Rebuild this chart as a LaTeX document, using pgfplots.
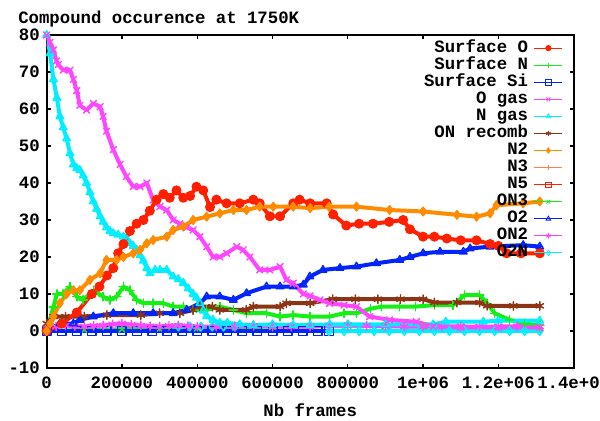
\documentclass[border=0pt]{standalone}
\usepackage{pgfplots}
\pgfplotsset{compat=1.18}
\usepackage{fontspec}
\setmainfont{Liberation Mono}
\usetikzlibrary{plotmarks}

% gnuplot-like line colours
\definecolor{gpRed}{RGB}{255,32,0}
\definecolor{gpGreen}{RGB}{20,240,20}
\definecolor{gpBlue}{RGB}{0,36,250}
\definecolor{gpMagenta}{RGB}{255,70,255}
\definecolor{gpCyan}{RGB}{0,238,255}
\definecolor{gpBrown}{RGB}{140,52,20}
\definecolor{gpOrange}{RGB}{255,140,0}
\definecolor{gpCoral}{RGB}{255,127,80}

\pgfplotsset{
  sSurfO/.style={color=gpRed, mark=*},
  sSurfN/.style={color=gpGreen, mark=+},
  sSurfSi/.style={color=gpBlue, mark=square},
  sOgas/.style={color=gpMagenta, mark=x},
  sNgas/.style={color=gpCyan, mark=triangle},
  sONrec/.style={color=gpBrown, mark=asterisk},
  sNtwo/.style={color=gpOrange, mark=diamond*},
  sNthree/.style={color=gpCoral, mark=+},
  sNfive/.style={color=gpRed, mark=square},
  sONthree/.style={color=gpGreen, mark=x},
  sOtwo/.style={color=gpBlue, mark=triangle},
  sONtwo/.style={color=gpMagenta, mark=asterisk},
  sOtwoN/.style={color=gpCyan, mark=diamond},
  % dense gnuplot linespoints render as thick ragged bands
  band/.style={line width=3pt, mark size=3.2pt, line join=round, line cap=round,
    mark options={solid, line width=1.1pt}},
}

\newcommand\gpfont{\fontsize{13}{15}\selectfont\bfseries}

\begin{document}
\begin{tikzpicture}
\begin{axis}[
  scale only axis, width=395.25pt, height=249.75pt,
  xmin=0, xmax=1400000, ymin=-10, ymax=80,
  xtick={0,200000,400000,600000,800000,1000000,1200000,1400000},
  xticklabels={0,200000,400000,600000,800000,1e+06,1.2e+06,1.4e+06},
  ytick={-10,0,10,20,30,40,50,60,70,80},
  scaled x ticks=false,
  font=\gpfont,
  ticklabel style={font=\gpfont},
  /pgf/number format/assume math mode=true,
  xticklabel style={anchor=base, yshift=-15.4pt, inner sep=0pt},
  yticklabel style={anchor=east, xshift=-5pt, inner sep=0pt},
  major tick length=3pt,
  tick style={black, line width=0.9pt},
  axis line style={black, line width=1.3pt},
  xlabel={Nb frames},
  xlabel style={at={(axis description cs:0.5,-0.126)}, anchor=center, inner sep=0pt},
  unbounded coords=jump,
  legend style={at={(rel axis cs:0.98,0.987)}, anchor=north east, draw=none, fill=none,
    inner sep=0pt, row sep=0pt, column sep=4pt,
    nodes={inner sep=0.4pt, text height=9pt, text depth=3pt, font=\gpfont}},
  legend cell align=right,
  legend plot pos=right,
  legend image code/.code={\draw[#1, line width=0.7pt, mark size=2pt, mark options={line width=0.6pt},
    mark repeat=2, mark phase=2]
    plot coordinates {(0pt,0pt) (10.5pt,0pt) (21pt,0pt)};},
]
% legend keys, in the order of the data file columns
\addlegendimage{sSurfO}\addlegendentry{Surface O}
\addlegendimage{sSurfN}\addlegendentry{Surface N}
\addlegendimage{sSurfSi}\addlegendentry{Surface Si}
\addlegendimage{sOgas}\addlegendentry{O gas}
\addlegendimage{sNgas}\addlegendentry{N gas}
\addlegendimage{sONrec}\addlegendentry{ON recomb}
\addlegendimage{sNtwo}\addlegendentry{N2}
\addlegendimage{sNthree}\addlegendentry{N3}
\addlegendimage{sNfive}\addlegendentry{N5}
\addlegendimage{sONthree}\addlegendentry{ON3}
\addlegendimage{sOtwo}\addlegendentry{O2}
\addlegendimage{sONtwo}\addlegendentry{ON2}
\addlegendimage{sOtwoN}\addlegendentry{O2N}

% N3 and N5 never leave zero
\addplot[sNthree, band, mark=none, forget plot] coordinates {(0,0)(400000,0)(800000,0)(1310000,0)};
\addplot[sNfive, band, mark=none, forget plot] coordinates {(0,0)(400000,0)(800000,0)(1310000,0)};

% ON3
\addplot[sONthree, band, forget plot] coordinates {
(0,0)(100000,0.3)(200000,0.5)(300000,0.6)(400000,0.8)(500000,1)(600000,1.2)(700000,1.3)
(800000,1.5)(900000,1.4)(1000000,1.2)(1100000,1.1)(1200000,1)(1310000,1)};

% Surface Si
\addplot[sSurfSi, band, forget plot] coordinates {
(0,0)(40000,0)(80000,0)(120000,0)(160000,0)(200000,0)(240000,0)(280000,0)(320000,0)(360000,0)
(400000,0)(440000,0)(480000,0)(520000,0)(560000,0)(600000,0)(640000,0)(680000,0)(720000,0)(750000,0)};

% O2N
\addplot[sOtwoN, band, forget plot] coordinates {
(350000,1.2)(380000,1.2)(410000,1.2)(440000,1.2)(470000,1.2)(500000,1.2)(505000,nan)
(750000,0)(790000,0)(830000,0)(870000,0)(910000,0)(950000,0)(990000,0)(1030000,0)
(1070000,0)(1110000,0)(1150000,0)(1190000,0)(1230000,0)(1270000,0)(1310000,0)};

% ON2
\addplot[sONtwo, band, forget plot] coordinates {
(0,0.8)(25000,1.2)(50000,1.5)(75000,1.3)(100000,1.2)(125000,1.4)(150000,1.5)(175000,1.8)
(200000,2)(225000,1.7)(250000,1.5)(275000,1.3)(300000,1.2)(325000,1.4)(350000,1.5)(375000,1.3)
(400000,1.2)(450000,1.2)(500000,1.2)(550000,1.4)(600000,1.2)(650000,1.2)(700000,1.2)(750000,1.4)
(800000,1.5)(850000,1.4)(900000,1.3)(950000,1.2)(1000000,1.2)(1050000,1.3)(1100000,1.2)(1150000,1.2)
(1200000,1.2)(1250000,1.3)(1310000,1.2)};

% Surface N
\addplot[sSurfN, band, forget plot] coordinates {
(0,0)(18000,6.5)(27000,10)(44000,10)(62000,12)(80000,9.3)(97000,8.4)(124000,11)
(150000,9.3)(168000,8.4)(186000,9.3)(204000,12)(221000,11)(239000,8.4)(257000,7.5)
(283000,7.5)(310000,7.5)(336000,6.6)(363000,6.6)(389000,5.7)(425000,5.7)(460000,6.6)
(496000,5.7)(531000,4.8)(584000,4.8)(620000,3.9)(655000,4.3)(700000,3.9)(752000,3.9)
(790000,4.8)(823000,4.8)(860000,6)(890000,6.6)(938000,6.6)(980000,6.6)(1030000,7)
(1080000,7)(1110000,9.7)(1150000,9.7)(1170000,7.5)(1190000,4.8)(1230000,3)(1270000,2)(1310000,1.5)};

% ON recomb
\addplot[sONrec, band, forget plot] coordinates {
(0,2)(18000,3.9)(50000,3.9)(100000,3.9)(160000,4.3)(250000,4.3)(300000,4.8)(354000,4.8)
(389000,5.7)(407000,6.6)(440000,6.6)(460000,5.7)(530000,5.7)(549000,6.6)(620000,6.6)
(637000,7.5)(700000,7.5)(760000,8.6)(820000,8.6)(880000,8.6)(940000,8.6)(1000000,8.6)
(1030000,7.7)(1090000,7.7)(1150000,7.7)(1170000,6.8)(1240000,6.8)(1310000,6.8)};

% O2
\addplot[sOtwo, band, forget plot] coordinates {
(0,0)(35000,2)(71000,2)(88000,3)(124000,3.9)(177000,4.8)(230000,4.8)(283000,4.8)
(336000,4.8)(372000,5.7)(407000,7.5)(425000,9.3)(460000,9.3)(496000,8.4)(531000,10.2)
(584000,12)(620000,12)(655000,12)(682000,12.5)(699000,14.7)(734000,16.5)(779000,17)
(823000,17.4)(876000,18.3)(938000,19.2)(965000,20)(1000000,21)(1045000,21.4)(1107000,21.4)
(1125000,22.3)(1178000,22.8)(1266000,23.2)(1310000,22.8)};

% N gas
\addplot[sNgas, band, forget plot] coordinates {
(0,80)(9000,75)(18000,68)(27000,63)(35000,58)(44000,55)(53000,52)(62000,48)(71000,45)
(80000,44)(88000,43.5)(97000,42)(106000,40)(115000,37.5)(124000,35)(133000,33)(142000,31)
(150000,29.5)(159000,28)(168000,27)(177000,26.4)(190000,26)(204000,25.5)(212000,25)
(221000,23.7)(230000,23)(239000,22)(248000,20.5)(257000,19)(266000,17)(274000,15.6)
(288000,16.5)(301000,16.5)(319000,16.5)(336000,14.7)(350000,14)(363000,13)(376000,11.5)
(389000,10)(398000,9)(407000,7.5)(416000,5.5)(425000,4)(442000,3)(460000,2.2)(480000,2.2)
(513000,1.8)(549000,1.6)(600000,1.8)(655000,1.6)(700000,1.6)(752000,1.8)(800000,1.8)
(900000,1.8)(1027000,1.8)(1060000,2.5)(1160000,2.5)(1200000,2.8)(1310000,2.8)};

% O gas
\addplot[sOgas, band, forget plot] coordinates {
(0,80)(9000,78)(18000,76)(26000,73)(31000,72)(44000,70.5)(62000,70.5)(71000,68)(80000,65)
(88000,61)(106000,59.7)(124000,61.5)(142000,60.6)(150000,58)(159000,54)(177000,49)
(195000,45)(212000,41.7)(230000,39)(248000,39)(266000,40)(283000,35.4)(301000,33.6)
(319000,32.7)(336000,30)(354000,29)(372000,28)(389000,27.3)(407000,25.5)(425000,22.8)
(442000,20)(460000,20)(478000,21)(505000,22.8)(522000,21.9)(540000,20)(566000,16.5)
(593000,16.5)(620000,17.4)(637000,13.8)(655000,12.9)(682000,10)(700000,9.5)(726000,8.4)
(752000,7.5)(790000,7)(823000,6.6)(858000,3.9)(911000,3)(982000,2.5)(1027000,1.2)
(1100000,1)(1200000,1)(1310000,1)};

% Surface O
\addplot[sSurfO, band, forget plot] coordinates {
(0,0)(40000,2)(80000,5)(120000,10)(140000,12)(160000,15)
(177000,17)(190000,21)(204000,23.5)(221000,27)(239000,29)(257000,30)(274000,32.5)
(292000,35.5)(310000,37)(327000,36)(345000,38)(363000,36)(381000,36.5)(398000,39)
(416000,38)(434000,33.5)(451000,35.5)(478000,34.5)(513000,34.5)(549000,35.5)(566000,34.5)
(593000,31)(620000,31)(655000,34.5)(672000,35.5)(700000,34.5)(744000,34.5)(761000,31.5)
(796000,28.5)(830000,29)(867000,29)(910000,29.5)(947000,30)(965000,27.5)(1000000,25.5)
(1030000,25.5)(1063000,25)(1100000,24.5)(1142000,24.5)(1178000,23.5)(1200000,23)
(1222000,21)(1260000,21)(1310000,21)};

% N2
\addplot[sNtwo, band, forget plot] coordinates {
(0,0)(9000,2)(18000,3.9)(35000,7.5)(53000,10)(71000,11)(88000,11)(115000,13.8)(142000,15.6)
(159000,19.2)(186000,19.2)(204000,20)(230000,21)(248000,21.9)(266000,23.7)(283000,24.6)
(319000,25.5)(336000,27.3)(363000,28.2)(389000,30)(425000,30.9)(460000,31.8)(496000,32.7)
(531000,32.7)(566000,33.6)(602000,33.6)(655000,33.6)(700000,33.2)(750000,33.6)(823000,33.6)
(911000,32.7)(1000000,32.3)(1090000,31.4)(1142000,30.9)(1178000,31.8)(1195000,34)
(1266000,34.5)(1310000,35)};
\end{axis}
\node[anchor=west, inner sep=0pt, font=\gpfont] at (-21.5pt,261.75pt) {Compound occurence at 1750K};
\pgfresetboundingbox
\path[use as bounding box] (-35pt,-39.75pt) rectangle (415pt,276pt);
\end{tikzpicture}
\end{document}
